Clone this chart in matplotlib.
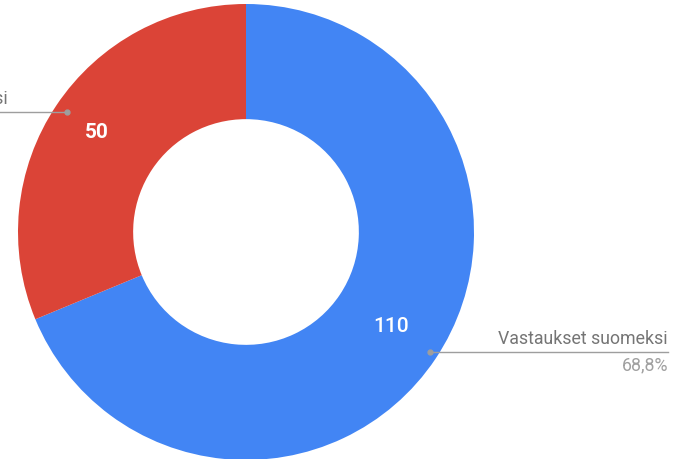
import matplotlib
matplotlib.use("Agg")
import matplotlib.pyplot as plt

categories = ["Vastaukset suomeksi", "Vastaukset ruotsiksi"]
values = [110, 50]
colors = ["#4285F4", "#DB4437"]

W, H = 679, 459
fig = plt.figure(figsize=(W / 100, H / 100), dpi=100)
ax = fig.add_axes([0, 0, 1, 1])

cx, cy = 246, H - 232
R = 228
wedges, _ = ax.pie(values, colors=colors, startangle=90, counterclock=False,
                   center=(cx, cy), radius=R,
                   wedgeprops=dict(width=R * 0.505, linewidth=0))
ax.set_xlim(0, W)
ax.set_ylim(0, H)
ax.set_aspect("equal")
ax.axis("off")

total = sum(values)
font = "Roboto"

# value labels inside slices
ax.text(391, H - 327, str(values[0]), color="white", fontsize=15, fontweight="medium",
        family=font, ha="center", va="center")
ax.text(97, H - 132, str(values[1]), color="white", fontsize=15, fontweight="bold",
        family=font, ha="center", va="center")

lc = "#9e9e9e"
# right leader
y1 = H - 352
ax.plot([430, 668], [y1, y1], color=lc, lw=1)
ax.plot([430], [y1], "o", color=lc, ms=3.5)
ax.text(668, y1 + 4, categories[0], color="#757575", fontsize=12.8, family=font,
        ha="right", va="bottom")
ax.text(668, y1 - 4, f"{values[0] / total * 100:.1f}%".replace(".", ","), color="#a0a0a0",
        fontsize=12.8, family=font, ha="right", va="top")

# left leader (cut off in the original)
y2 = H - 112
ax.plot([-10, 67], [y2, y2], color=lc, lw=1)
ax.plot([67], [y2], "o", color=lc, ms=3.5)
ax.text(8, y2 + 4, categories[1], color="#757575", fontsize=12.8, family=font,
        ha="right", va="bottom")

fig.savefig("out.png", dpi=100)
